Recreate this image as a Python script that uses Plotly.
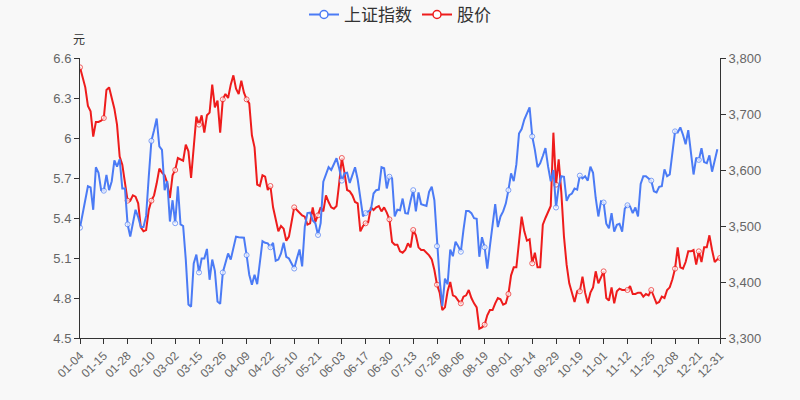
import plotly.graph_objects as go
import pandas as pd

# ---- categories: 2021 A-share trading days ----
holidays = ["2021-01-01", "2021-02-11", "2021-02-12", "2021-02-15", "2021-02-16", "2021-02-17",
            "2021-04-05", "2021-05-03", "2021-05-04", "2021-05-05", "2021-06-14",
            "2021-09-20", "2021-09-21", "2021-10-01", "2021-10-04", "2021-10-05",
            "2021-10-06", "2021-10-07"]
bdays = pd.bdate_range("2021-01-01", "2021-12-31")
dates = [d.strftime("%m-%d") for d in bdays if d.strftime("%Y-%m-%d") not in holidays]

tick_labels = ["01-04", "01-15", "01-28", "02-10", "03-02", "03-15", "03-26", "04-09", "04-22",
               "05-10", "05-21", "06-03", "06-17", "06-30", "07-13", "07-26", "08-06", "08-19",
               "09-01", "09-14", "09-29", "10-19", "11-01", "11-12", "11-25", "12-08", "12-21",
               "12-31"]

# ---- series: 上证指数 (right axis) ----
index_values = [
    3497, 3523, 3546, 3571, 3569, 3529, 3605, 3595, 3564, 3563,
    3591, 3564, 3580, 3617, 3606, 3619, 3567, 3567, 3503, 3481,
    3505, 3529, 3516, 3498, 3498, 3518, 3588, 3652, 3671, 3692,
    3642, 3636, 3564, 3580, 3508, 3546, 3505, 3571, 3503, 3500,
    3440, 3360, 3356, 3433, 3449, 3417, 3442, 3442, 3459, 3404,
    3440, 3420, 3365, 3361, 3417, 3433, 3451, 3440, 3463, 3481,
    3480, 3479, 3479, 3448, 3413, 3395, 3413, 3396, 3433, 3473,
    3470, 3469, 3462, 3470, 3438, 3440, 3451, 3470, 3445, 3442,
    3433, 3424, 3442, 3458, 3428, 3499, 3523, 3524, 3510, 3505,
    3484, 3505, 3579, 3594, 3605, 3600, 3612, 3621, 3603, 3581,
    3594, 3595, 3577, 3591, 3605, 3583, 3552, 3517, 3523, 3526,
    3529, 3558, 3564, 3565, 3605, 3603, 3567, 3588, 3585, 3517,
    3529, 3528, 3549, 3523, 3522, 3545, 3564, 3526, 3560, 3539,
    3538, 3536, 3561, 3570, 3546, 3464, 3404, 3357, 3406, 3396,
    3458, 3446, 3472, 3464, 3454, 3493, 3527, 3527, 3523, 3514,
    3513, 3445, 3480, 3462, 3424, 3464, 3500, 3539, 3498, 3517,
    3526, 3540, 3564, 3594, 3580, 3610, 3665, 3673, 3690, 3700,
    3712, 3660, 3636, 3605, 3612, 3625, 3639, 3606, 3580, 3600,
    3533, 3570, 3589, 3588, 3545, 3555, 3558, 3567, 3565, 3590,
    3585, 3589, 3581, 3606, 3595, 3550, 3517, 3544, 3542, 3504,
    3496, 3523, 3490, 3502, 3504, 3490, 3531, 3537, 3535, 3523,
    3533, 3517, 3575, 3589, 3589, 3585, 3581, 3562, 3560, 3570,
    3571, 3601, 3589, 3592, 3634, 3669, 3667, 3676, 3663, 3646,
    3671, 3630, 3592, 3622, 3618, 3639, 3614, 3612, 3626, 3597,
    3618, 3637,
]

# ---- series: 股价 (left axis, 元) ----
price_values = [
    6.53, 6.45, 6.38, 6.24, 6.20, 6.01, 6.12, 6.12, 6.13, 6.15,
    6.36, 6.38, 6.30, 6.22, 6.10, 5.86, 5.80, 5.66, 5.53, 5.53,
    5.57, 5.56, 5.51, 5.33, 5.30, 5.31, 5.46, 5.53, 5.57, 5.66,
    5.77, 5.74, 5.72, 5.66, 5.55, 5.72, 5.76, 5.85, 5.84, 5.83,
    5.95, 5.90, 5.70, 5.93, 6.16, 6.10, 6.17, 6.04, 6.17, 6.19,
    6.40, 6.23, 6.28, 6.04, 6.29, 6.33, 6.30, 6.40, 6.47, 6.37,
    6.33, 6.43, 6.34, 6.29, 6.26, 6.02, 5.93, 5.65, 5.64, 5.72,
    5.71, 5.61, 5.64, 5.48, 5.38, 5.30, 5.34, 5.32, 5.23, 5.26,
    5.37, 5.48, 5.46, 5.44, 5.42, 5.41, 5.35, 5.36, 5.48, 5.37,
    5.42, 5.48, 5.45, 5.57, 5.52, 5.48, 5.47, 5.49, 5.66, 5.85,
    5.74, 5.61, 5.60, 5.57, 5.52, 5.51, 5.30, 5.34, 5.36, 5.37,
    5.48, 5.46, 5.48, 5.49, 5.45, 5.48, 5.44, 5.39, 5.22, 5.20,
    5.20, 5.15, 5.14, 5.16, 5.21, 5.18, 5.31, 5.27, 5.18, 5.16,
    5.16, 5.14, 5.12, 5.09, 5.01, 4.90, 4.84, 4.71, 4.73, 4.85,
    4.92, 4.82, 4.81, 4.78, 4.76, 4.81, 4.82, 4.86, 4.80, 4.76,
    4.73, 4.57, 4.58, 4.60, 4.67, 4.71, 4.71, 4.76, 4.80, 4.79,
    4.75, 4.76, 4.83, 4.97, 5.03, 5.03, 5.25, 5.41, 5.30, 5.23,
    5.24, 5.06, 5.14, 5.03, 5.03, 5.35, 5.40, 5.44, 5.49, 6.04,
    5.65, 5.84, 5.59, 5.26, 5.05, 4.91, 4.84, 4.77, 4.85, 4.85,
    4.96, 4.84, 4.76, 4.84, 4.88, 5.00, 4.91, 4.95, 5.00, 4.80,
    4.78, 4.88, 4.76, 4.85, 4.87, 4.86, 4.86, 4.86, 4.89, 4.83,
    4.83, 4.84, 4.84, 4.81, 4.83, 4.82, 4.86, 4.81, 4.76, 4.77,
    4.81, 4.80, 4.86, 4.88, 4.94, 5.02, 5.18, 5.03, 5.02, 5.07,
    5.15, 5.15, 5.16, 5.05, 5.15, 5.07, 5.18, 5.18, 5.27, 5.16,
    5.07, 5.09, 5.10,
]

BLUE = "#4b7bf5"
RED = "#ee1c1c"
BG = "#f8f8f8"
FONT = "Liberation Sans, Noto Sans CJK SC, sans-serif"

n = len(dates)
marker_idx = set(range(0, n, 9)) | {n - 1}
marker_sizes = [5 if i in marker_idx else 0 for i in range(n)]

fig = go.Figure()


def add_series(name, vals, color, yaxis):
    fig.add_trace(go.Scatter(
        x=dates, y=vals, name=name, mode="lines+markers", yaxis=yaxis,
        line=dict(color=color, width=2),
        marker=dict(size=marker_sizes, color="#ffffff", line=dict(color=color, width=1)),
        showlegend=False, legendgroup=name,
    ))
    fig.add_trace(go.Scatter(
        x=[None], y=[None], name=name, mode="lines+markers", yaxis=yaxis,
        line=dict(color=color, width=2),
        marker=dict(size=8, color="#ffffff", line=dict(color=color, width=1.5)),
        showlegend=True, legendgroup=name,
    ))


add_series("上证指数", index_values, BLUE, "y2")
add_series("股价", price_values, RED, "y")

axis_common = dict(showline=True, linecolor="#333333", linewidth=1, ticks="outside",
                   ticklen=5, tickcolor="#333333", showgrid=False, zeroline=False,
                   automargin=False)

fig.update_layout(
    width=800, height=400,
    margin=dict(l=80, r=80, t=58, b=62, autoexpand=False),
    paper_bgcolor=BG, plot_bgcolor=BG,
    font=dict(family=FONT, color="#333333"),
    xaxis=dict(type="category", range=[0, n - 1], tickvals=tick_labels, ticktext=tick_labels,
               tickangle=-45, tickfont=dict(family=FONT, size=12, color="#666666"),
               **axis_common),
    yaxis=dict(range=[4.5, 6.6], tick0=4.5, dtick=0.3,
               tickfont=dict(family=FONT, size=13, color="#666666"), **axis_common),
    yaxis2=dict(range=[3300, 3800], tick0=3300, dtick=100, tickformat=",",
                overlaying="y", side="right",
                tickfont=dict(family=FONT, size=13, color="#666666"), **axis_common),
    legend=dict(orientation="h", x=0.5, xanchor="center", y=1.218, yanchor="top",
                font=dict(family="Noto Sans CJK SC, sans-serif", size=17, color="#333333"),
                bgcolor="rgba(0,0,0,0)", itemwidth=30),
    annotations=[dict(text="元", xref="paper", yref="paper", x=-0.0016, y=1.071,
                      xanchor="center", yanchor="middle",
                      showarrow=False, font=dict(family="Noto Sans CJK SC, sans-serif",
                                                 size=12, color="#333333"))],
)

fig.write_html("out.html",
               config={"displayModeBar": False},
               post_script="document.body.style.margin='0';"
                           "document.body.style.background='" + BG + "';")
